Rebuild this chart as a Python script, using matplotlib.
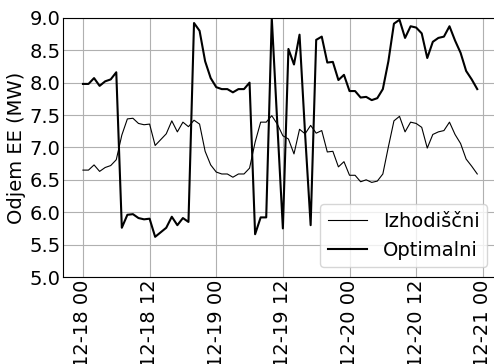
import pandas as pd
import matplotlib
matplotlib.use('Agg')
import matplotlib.pyplot as plt
import matplotlib.dates as mdates

# hourly consumption, 12-18 00 .. 12-20 23
hours = pd.date_range('2020-12-18 00:00', periods=72, freq='h')

izhodiscni = [6.65, 6.65, 6.73, 6.63, 6.69, 6.72, 6.81, 7.19, 7.44, 7.45, 7.37, 7.35,
              7.36, 7.03, 7.12, 7.21, 7.41, 7.24, 7.39, 7.32, 7.42, 7.36, 6.94, 6.73,
              6.62, 6.59, 6.59, 6.54, 6.59, 6.59, 6.68, 7.08, 7.39, 7.39, 7.49, 7.36,
              7.18, 7.13, 6.90, 7.28, 7.21, 7.34, 7.22, 7.26, 6.93, 6.94, 6.70, 6.78,
              6.57, 6.57, 6.47, 6.50, 6.46, 6.48, 6.59, 7.01, 7.41, 7.48, 7.24, 7.39,
              7.37, 7.31, 6.99, 7.20, 7.24, 7.26, 7.39, 7.20, 7.06, 6.82, 6.71, 6.59]

optimalni = [7.98, 7.98, 8.07, 7.95, 8.02, 8.05, 8.16, 5.76, 5.96, 5.97, 5.91, 5.89,
             5.90, 5.62, 5.69, 5.76, 5.93, 5.80, 5.91, 5.85, 8.92, 8.80, 8.33, 8.07,
             7.93, 7.90, 7.90, 7.85, 7.90, 7.90, 8.00, 5.66, 5.92, 5.92, 9.00, 7.36,
             5.75, 8.52, 8.28, 8.74, 7.21, 5.80, 8.66, 8.71, 8.31, 8.32, 8.04, 8.12,
             7.87, 7.87, 7.77, 7.78, 7.73, 7.76, 7.90, 8.33, 8.91, 8.97, 8.69, 8.87,
             8.85, 8.76, 8.38, 8.63, 8.69, 8.71, 8.87, 8.65, 8.46, 8.18, 8.05, 7.90]

plt.rcParams.update({'font.size': 14})

fig = plt.figure(figsize=(4.94, 3.64), dpi=100)
# right edge of the axes sits just outside the picture, like the reference
ax = fig.add_axes([0.128, 0.239, 0.878, 0.712])

ax.plot(hours, izhodiscni, color='k', lw=0.8, label='Izhodiščni')
ax.plot(hours, optimalni, color='k', lw=1.5, label='Optimalni')

ax.set_ylim(5.0, 9.0)
ax.set_yticks([5.0, 5.5, 6.0, 6.5, 7.0, 7.5, 8.0, 8.5, 9.0])
ax.set_ylabel('Odjem EE (MW)', labelpad=2)
ax.xaxis.set_major_locator(mdates.HourLocator(byhour=[0, 12]))
ax.xaxis.set_major_formatter(mdates.DateFormatter('%m-%d %H'))
plt.setp(ax.get_xticklabels(), rotation=90)
ax.tick_params(direction='in', length=0, pad=2)
ax.grid(True, color='#b0b0b0', lw=0.8)
ax.legend(loc='lower right', borderaxespad=0.5)

fig.savefig('out.png', dpi=100)
